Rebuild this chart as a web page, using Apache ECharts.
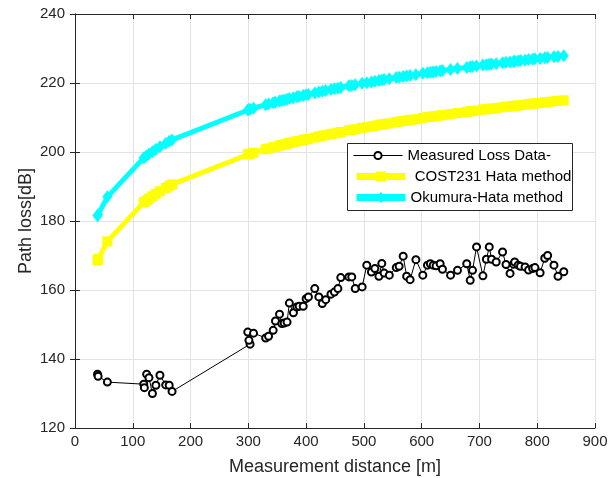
<!DOCTYPE html>
<html>
<head>
<meta charset="utf-8">
<script src="https://cdn.jsdelivr.net/npm/echarts@6/dist/echarts.min.js"></script>
<style>
  html, body { margin: 0; padding: 0; background: #ffffff; }
  #chart { width: 616px; height: 478px; }
</style>
</head>
<body>
<div id="chart"></div>
<script>
// Measurement distances [m]
const distances = [39, 40, 56, 119, 120, 124, 128, 134, 140, 147, 157, 163, 168,
  303, 301, 299, 309, 330, 335, 343, 347, 354, 358, 362, 367, 371, 378, 384, 388, 395,
  400, 404, 415, 422, 428, 434, 443, 449, 455, 460, 474, 479, 485, 497, 505, 513, 519,
  526, 531, 535, 544, 556, 561, 568, 574, 580, 590, 602, 610, 615, 620, 625, 632, 636,
  650, 662, 678, 684, 688, 695, 706, 712, 717, 721, 729, 740, 746, 753, 759, 761, 767,
  771, 779, 785, 792, 796, 805, 813, 818, 829, 836, 846];

// Measured path loss [dB]
const measuredLoss = [135.6, 135.0, 133.3, 132.7, 131.7, 135.6, 134.6, 130.0, 132.4, 135.3, 132.5, 132.4, 130.6,
  144.3, 145.4, 147.8, 147.5, 146.1, 146.6, 148.3, 151.0, 153.0, 150.3, 150.4, 150.7, 156.2, 153.4, 155.1, 155.3, 155.3,
  157.5, 158.0, 160.4, 158.0, 156.1, 157.2, 158.8, 159.4, 160.4, 163.6, 163.8, 163.8, 160.4, 160.9, 167.2, 165.2, 166.2,
  164.0, 167.7, 164.9, 164.3, 166.5, 166.9, 169.8, 164.0, 163.0, 168.8, 164.3, 167.2, 167.6, 167.2, 167.0, 167.6, 166.0,
  164.3, 165.7, 167.6, 162.8, 165.7, 172.5, 164.1, 168.9, 172.5, 168.9, 168.1, 171.0, 167.4, 164.8, 167.5, 168.1, 167.2,
  166.9, 166.7, 165.8, 166.2, 166.5, 165.0, 169.2, 170.0, 167.2, 164.0, 165.3];

// COST231 Hata prediction [dB]
const cost231Loss = [168.6, 169.0, 174.1, 185.4, 185.5, 186.0, 186.5, 187.2, 187.9, 188.6, 189.6, 190.2, 190.6,
  199.5, 199.4, 199.3, 199.8, 200.8, 201.0, 201.4, 201.5, 201.9, 202.0, 202.2, 202.4, 202.6, 202.8, 203.1, 203.2, 203.5,
  203.7, 203.8, 204.2, 204.5, 204.7, 204.9, 205.2, 205.4, 205.6, 205.8, 206.3, 206.4, 206.6, 207.0, 207.2, 207.4, 207.6,
  207.8, 208.0, 208.1, 208.3, 208.7, 208.8, 209.0, 209.1, 209.3, 209.5, 209.9, 210.1, 210.2, 210.3, 210.4, 210.6, 210.7,
  211.0, 211.3, 211.6, 211.8, 211.9, 212.0, 212.3, 212.4, 212.5, 212.6, 212.7, 213.0, 213.1, 213.2, 213.3, 213.4, 213.5,
  213.6, 213.7, 213.9, 214.0, 214.1, 214.2, 214.4, 214.5, 214.7, 214.8, 215.0];

// Okumura-Hata prediction [dB]
const okumuraLoss = [181.5, 181.9, 187.0, 198.3, 198.4, 198.9, 199.4, 200.1, 200.8, 201.5, 202.5, 203.1, 203.5,
  212.4, 212.3, 212.2, 212.7, 213.7, 213.9, 214.3, 214.4, 214.8, 214.9, 215.1, 215.3, 215.5, 215.7, 216.0, 216.1, 216.4,
  216.6, 216.7, 217.1, 217.4, 217.6, 217.8, 218.1, 218.3, 218.5, 218.7, 219.2, 219.3, 219.5, 219.9, 220.1, 220.3, 220.5,
  220.7, 220.9, 221.0, 221.2, 221.6, 221.7, 221.9, 222.0, 222.2, 222.4, 222.8, 223.0, 223.1, 223.2, 223.3, 223.5, 223.6,
  223.9, 224.2, 224.5, 224.7, 224.8, 224.9, 225.2, 225.3, 225.4, 225.5, 225.6, 225.9, 226.0, 226.1, 226.2, 226.3, 226.4,
  226.5, 226.6, 226.8, 226.9, 227.0, 227.1, 227.3, 227.4, 227.6, 227.7, 227.9];

const seriesNames = ['Measured Loss Data-', ' COST231 Hata method', 'Okumura-Hata method'];
const xTicks = { min: 0, max: 900, step: 100 };
const yTicks = { min: 120, max: 240, step: 20 };

const FONT = '"Liberation Sans", Arial, sans-serif';
const AXIS_COLOR = '#262626';

function pairs(ys) {
  return distances.map((d, i) => [d, ys[i]]);
}

const chart = echarts.init(document.getElementById('chart'), null, { renderer: 'canvas' });

const frameAxisCommon = {
  axisLine: { show: true, lineStyle: { color: AXIS_COLOR, width: 1 } },
  axisTick: { show: true, inside: true, length: 5, lineStyle: { color: AXIS_COLOR } },
  axisLabel: { show: false },
  splitLine: { show: false }
};

// One legend row per series, so each row can carry its own marker size and line weight
function legendRow(name, centerY, itemHeight, lineWidth) {
  return {
    show: true,
    orient: 'horizontal',
    left: 353,
    top: centerY - 8,
    padding: 0,
    itemWidth: 49,
    itemHeight: itemHeight,
    z: 6,
    lineStyle: { width: lineWidth },
    textStyle: { fontFamily: FONT, fontSize: 15, color: '#000000' },
    data: [name]
  };
}

chart.setOption({
  animation: false,
  backgroundColor: '#ffffff',
  grid: { left: 75, right: 21, top: 14, bottom: 50, containLabel: false, outerBoundsMode: 'none' },
  graphic: [{
    type: 'rect',
    z: 5,
    shape: { x: 347.5, y: 143.5, width: 225, height: 67 },
    style: { fill: '#ffffff', stroke: '#262626', lineWidth: 1 }
  }],
  legend: [
    legendRow(seriesNames[0], 156, 9, 1),
    legendRow(seriesNames[1], 177, 12.5, 7),
    legendRow(seriesNames[2], 198, 14, 7)
  ],
  xAxis: [
    {
      type: 'value',
      min: xTicks.min, max: xTicks.max, interval: xTicks.step,
      name: 'Measurement distance [m]',
      nameLocation: 'middle',
      nameGap: 30,
      nameMoveOverlap: false,
      nameTextStyle: { fontFamily: FONT, fontSize: 18, color: AXIS_COLOR },
      axisLine: { show: true, lineStyle: { color: AXIS_COLOR, width: 1 } },
      axisTick: { show: true, inside: true, length: 5, lineStyle: { color: AXIS_COLOR } },
      axisLabel: { fontFamily: FONT, fontSize: 15, color: AXIS_COLOR, margin: 6 },
      splitLine: { show: true, lineStyle: { color: '#e3e3e3', width: 1 } }
    },
    Object.assign({ type: 'value', position: 'top', min: xTicks.min, max: xTicks.max, interval: xTicks.step }, frameAxisCommon)
  ],
  yAxis: [
    {
      type: 'value',
      min: yTicks.min, max: yTicks.max, interval: yTicks.step,
      name: 'Path loss[dB]',
      nameLocation: 'middle',
      nameGap: 40,
      nameMoveOverlap: false,
      nameTextStyle: { fontFamily: FONT, fontSize: 18, color: AXIS_COLOR },
      axisLine: { show: true, lineStyle: { color: AXIS_COLOR, width: 1 } },
      axisTick: { show: true, inside: true, length: 5, lineStyle: { color: AXIS_COLOR } },
      axisLabel: { fontFamily: FONT, fontSize: 15, color: AXIS_COLOR, margin: 10 },
      splitLine: { show: true, lineStyle: { color: '#e3e3e3', width: 1 } }
    },
    Object.assign({ type: 'value', position: 'right', min: yTicks.min, max: yTicks.max, interval: yTicks.step }, frameAxisCommon)
  ],
  series: [
    {
      name: seriesNames[2],
      type: 'line',
      data: pairs(okumuraLoss),
      z: 2,
      symbol: 'diamond',
      symbolSize: [10, 13],
      showAllSymbol: true,
      lineStyle: { color: '#00ffff', width: 5 },
      itemStyle: { color: '#00ffff', borderWidth: 0 }
    },
    {
      name: seriesNames[1],
      type: 'line',
      data: pairs(cost231Loss),
      z: 3,
      symbol: 'rect',
      symbolSize: 10,
      showAllSymbol: true,
      lineStyle: { color: '#ffff00', width: 5 },
      itemStyle: { color: '#ffff00', borderWidth: 0 }
    },
    {
      name: seriesNames[0],
      type: 'line',
      data: pairs(measuredLoss),
      z: 4,
      symbol: 'emptyCircle',
      symbolSize: 7,
      showAllSymbol: true,
      lineStyle: { color: '#000000', width: 1 },
      itemStyle: { color: '#000000', borderColor: '#000000', borderWidth: 1 }
    }
  ]
});
</script>
</body>
</html>
